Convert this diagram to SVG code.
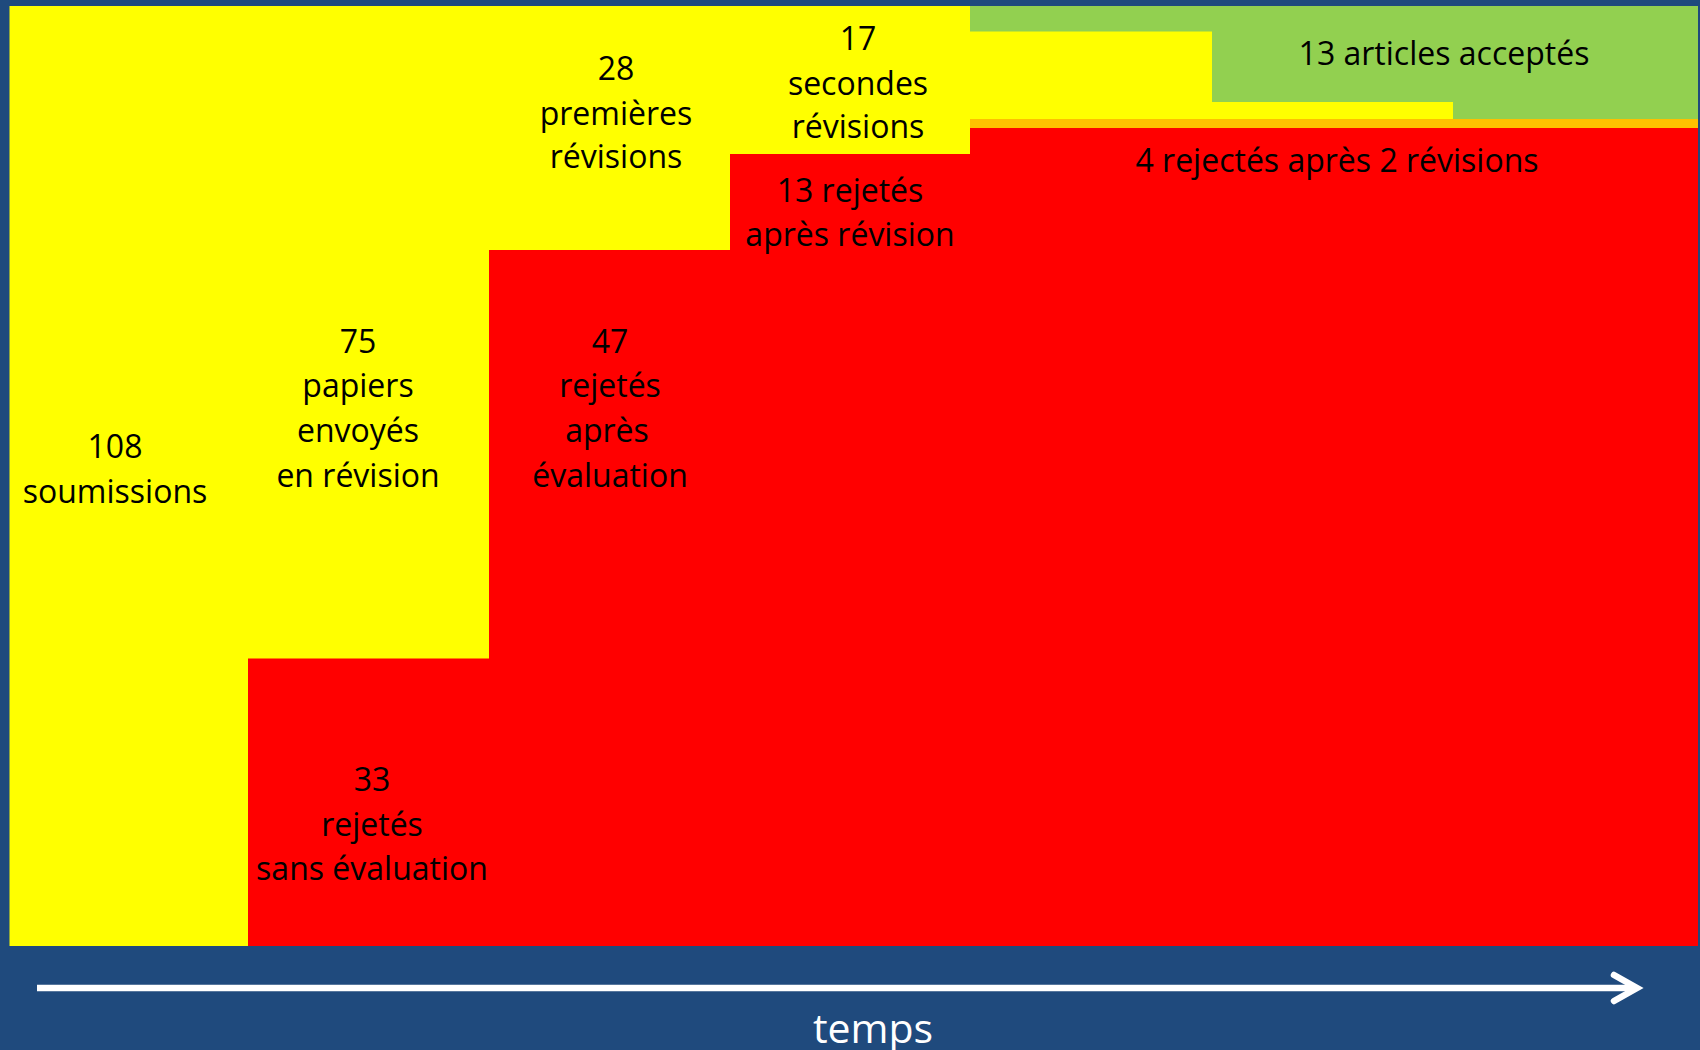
<svg xmlns="http://www.w3.org/2000/svg" width="1700" height="1050" viewBox="0 0 1700 1050">
  <style>
    .lbl { font-family: "Open Sans", "Noto Sans", sans-serif; font-size: 32px; fill: #000000; text-anchor: middle; }
    .axis-lbl { font-family: "Open Sans", "Noto Sans", sans-serif; font-size: 41px; fill: #ffffff; text-anchor: middle; }
    .pending { fill: #ffff00; }
    .rejected { fill: #ff0000; }
    .accepted { fill: #92d050; }
  </style>

  <!-- page background -->
  <rect x="0" y="0" width="1700" height="1050" fill="#1f4a7d"/>

  <!-- submissions still in process (yellow) -->
  <g id="submissions">
    <rect class="pending" x="9.5" y="6" width="1688.5" height="940"/>
    <text class="lbl" x="115" y="458">108</text>
    <text class="lbl" x="115" y="503">soumissions</text>
  </g>

  <g id="sent-to-review">
    <text class="lbl" x="358" y="353">75</text>
    <text class="lbl" x="358" y="397">papiers</text>
    <text class="lbl" x="358" y="442">envoyés</text>
    <text class="lbl" x="358" y="487">en révision</text>
  </g>

  <g id="desk-rejected">
    <rect class="rejected" x="248" y="658.5" width="241" height="287.5"/>
    <text class="lbl" x="372" y="791">33</text>
    <text class="lbl" x="372" y="836">rejetés</text>
    <text class="lbl" x="372" y="880">sans évaluation</text>
  </g>

  <g id="rejected-after-review">
    <rect class="rejected" x="489" y="250" width="241" height="696"/>
    <text class="lbl" x="610" y="353">47</text>
    <text class="lbl" x="610" y="397">rejetés</text>
    <text class="lbl" x="607" y="442">après</text>
    <text class="lbl" x="610" y="487">évaluation</text>
  </g>

  <g id="first-revisions">
    <text class="lbl" x="616" y="80">28</text>
    <text class="lbl" x="616" y="125">premières</text>
    <text class="lbl" x="616" y="168">révisions</text>
  </g>

  <g id="rejected-after-revision">
    <rect class="rejected" x="730" y="154" width="240" height="792"/>
    <text class="lbl" x="850" y="202">13 rejetés</text>
    <text class="lbl" x="850" y="246">après révision</text>
  </g>

  <g id="second-revisions">
    <text class="lbl" x="858" y="50">17</text>
    <text class="lbl" x="858" y="95">secondes</text>
    <text class="lbl" x="858" y="138">révisions</text>
  </g>

  <g id="rejected-after-two-revisions">
    <rect class="rejected" x="970" y="128" width="728" height="818"/>
    <rect x="970" y="119" width="728" height="9" fill="#ffc000"/>
    <text class="lbl" x="1337" y="172">4 rejectés après 2 révisions</text>
  </g>

  <g id="accepted">
    <path class="accepted" d="M970,6 H1698 V119 H1453 V102 H1212 V31.5 H970 Z"/>
    <text class="lbl" x="1444" y="65">13 articles acceptés</text>
  </g>

  <!-- time axis -->
  <g id="connectors">
    <line x1="37" y1="988" x2="1634" y2="988" stroke="#ffffff" stroke-width="6.5"/>
    <polyline points="1614,975 1637,988 1614,1001" fill="none" stroke="#ffffff" stroke-width="6.5" stroke-linecap="round" stroke-linejoin="miter"/>
  </g>
  <g id="axis-label">
    <text class="axis-lbl" x="873" y="1043">temps</text>
  </g>
</svg>
